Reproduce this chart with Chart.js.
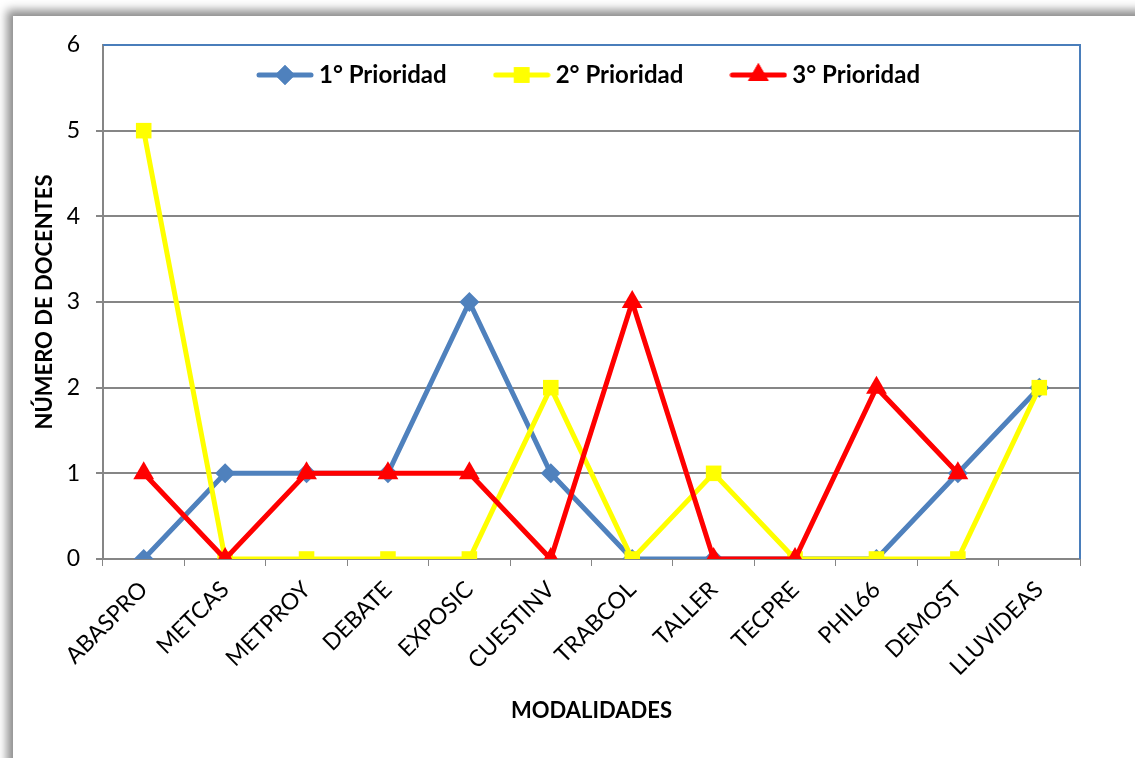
<!DOCTYPE html>
<html>
<head>
<meta charset="utf-8">
<title>Modalidades por prioridad</title>
<script src="https://cdn.jsdelivr.net/npm/chart.js"></script>
<style>
  html, body { margin: 0; padding: 0; background: #fff; overflow: hidden; }
  #frame { position: absolute; left: 13px; top: 16px; width: 1200px; height: 800px; background: #fff;
           box-shadow: -6px -6px 9px rgba(0,0,0,0.45); }
  #wrap { position: absolute; left: 0; top: 0; width: 1135px; height: 758px; }
</style>
</head>
<body>
<div id="frame"></div>
<div id="wrap"><canvas id="chart" width="1135" height="758"></canvas></div>
<script>
const categories = ['ABASPRO', 'METCAS', 'METPROY', 'DEBATE', 'EXPOSIC', 'CUESTINV',
                    'TRABCOL', 'TALLER', 'TECPRE', 'PHIL66', 'DEMOST', 'LLUVIDEAS'];
const prioridad1 = [0, 1, 1, 1, 3, 1, 0, 0, 0, 0, 1, 2];
const prioridad2 = [5, 0, 0, 0, 0, 2, 0, 1, 0, 0, 0, 2];
const prioridad3 = [1, 0, 1, 1, 1, 0, 3, 0, 0, 2, 1, null];
const seriesNames = ['1° Prioridad', '2° Prioridad', '3° Prioridad'];

const FONT = 'Lato, "Open Sans", sans-serif';
const GRAY = '#868686';
const FRAME_BLUE = '#4A7EBB';

// small line + marker picture for the legend
function legendIcon(color, style, r) {
  const c = document.createElement('canvas');
  c.width = 58; c.height = 28;
  const g = c.getContext('2d');
  g.strokeStyle = color; g.lineWidth = 5; g.lineCap = 'round';
  g.beginPath(); g.moveTo(3, 14); g.lineTo(55, 14); g.stroke();
  g.fillStyle = color;
  Chart.helpers.drawPoint(g, { pointStyle: style, radius: r, rotation: 0, borderWidth: 0 }, 29, 14);
  g.fill();
  return c;
}

const frameLines = {
  id: 'frameLines',
  beforeDatasetsDraw(chart) {
    const { ctx, chartArea: a } = chart;
    ctx.save();
    ctx.strokeStyle = FRAME_BLUE;
    ctx.lineWidth = 2;
    ctx.beginPath();
    ctx.moveTo(a.left, a.top);
    ctx.lineTo(a.right, a.top);
    ctx.lineTo(a.right, a.bottom);
    ctx.stroke();
    ctx.restore();
  }
};

// the legend sits inside the plot area, so it takes almost no room and is not clipped
const legendInside = {
  id: 'legendInside',
  afterInit(chart) {
    const lg = chart.legend;
    const fit = lg.fit;
    lg.fit = function () { fit.call(this); this.height = 35; };
    lg.draw = function () { if (this.options.display) this._draw(); };
  }
};

const ctx = document.getElementById('chart').getContext('2d');
new Chart(ctx, {
  type: 'line',
  data: {
    labels: categories,
    datasets: [
      {
        label: seriesNames[0],
        data: prioridad1,
        borderColor: '#4F81BD', backgroundColor: '#4F81BD',
        borderWidth: 5, pointStyle: 'rectRot', pointRadius: 10, pointHoverRadius: 10,
        pointBorderWidth: 0, order: 3, tension: 0
      },
      {
        label: seriesNames[1],
        data: prioridad2,
        borderColor: '#FFFF00', backgroundColor: '#FFFF00',
        borderWidth: 5, pointStyle: 'rect', pointRadius: 11, pointHoverRadius: 11,
        pointBorderWidth: 0, order: 2, tension: 0
      },
      {
        label: seriesNames[2],
        data: prioridad3,
        borderColor: '#FF0000', backgroundColor: '#FF0000',
        borderWidth: 5, pointStyle: 'triangle', pointRadius: 12, pointHoverRadius: 12,
        pointBorderWidth: 0, order: 1, tension: 0
      }
    ]
  },
  options: {
    responsive: false,
    animation: false,
    layout: { padding: { left: 13, top: 10, right: 55, bottom: 14 } },
    plugins: {
      tooltip: { enabled: false },
      legend: {
        position: 'top',
        fullSize: false,
        labels: {
          usePointStyle: true,
          pointStyleWidth: 44,
          padding: 53,
          color: '#000',
          font: { family: FONT, size: 24, weight: 'bold' },
          generateLabels(chart) {
            const icons = [['rectRot', 10], ['rect', 11], ['triangle', 12]];
            return chart.data.datasets.map((ds, i) => ({
              text: ds.label,
              fillStyle: ds.backgroundColor,
              strokeStyle: ds.borderColor,
              lineWidth: 0,
              pointStyle: legendIcon(ds.borderColor, icons[i][0], icons[i][1]),
              fontColor: '#000',
              datasetIndex: i,
              hidden: false
            }));
          }
        }
      }
    },
    scales: {
      x: {
        offset: true,
        afterFit(s) { s.height = 185; },
        grid: { offset: true, drawOnChartArea: false, drawTicks: true, tickLength: 7, color: GRAY, lineWidth: 1 },
        border: { color: GRAY, width: 2 },
        ticks: {
          autoSkip: false, minRotation: 45, maxRotation: 45, padding: 10,
          color: '#000', font: { family: FONT, size: 23 }
        },
        title: {
          display: true, text: 'MODALIDADES', color: '#000',
          font: { family: FONT, size: 22, weight: 'bold', lineHeight: 1.2 },
          padding: { top: 0, bottom: 20 }
        }
      },
      y: {
        min: 0, max: 6,
        afterFit(s) { s.width = 90; },
        grid: {
          color: c => (c.tick && c.tick.value === 6 ? 'rgba(0,0,0,0)' : GRAY),
          lineWidth: 2, drawTicks: true, tickLength: 7
        },
        border: { color: GRAY, width: 2 },
        ticks: { stepSize: 1, padding: 16, color: '#000', font: { family: FONT, size: 23 } },
        title: {
          display: true, text: 'NÚMERO DE DOCENTES', color: '#000',
          font: { family: FONT, size: 22, weight: 'bold', lineHeight: 1.2 },
          padding: { top: 19, bottom: 0 }
        }
      }
    }
  },
  plugins: [frameLines, legendInside]
});
</script>
</body>
</html>
